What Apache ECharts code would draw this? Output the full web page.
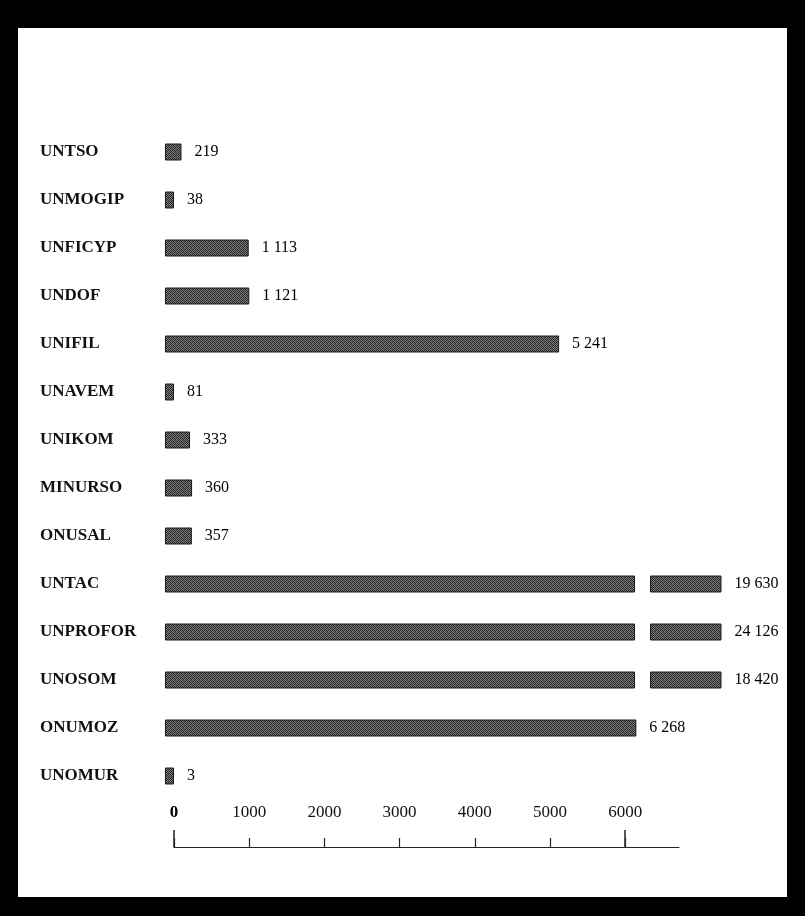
<!DOCTYPE html>
<html>
<head>
<meta charset="utf-8">
<script src="https://cdn.jsdelivr.net/npm/echarts@6/dist/echarts.min.js"></script>
<style>
  html, body { margin: 0; padding: 0; background: #000; }
  #chart { position: absolute; left: 18px; top: 28px; width: 769px; height: 869px; background: #fff; }
</style>
</head>
<body>
<div id="chart"></div>
<script>
// ---- data ----
const categories = ['UNTSO', 'UNMOGIP', 'UNFICYP', 'UNDOF', 'UNIFIL', 'UNAVEM', 'UNIKOM',
  'MINURSO', 'ONUSAL', 'UNTAC', 'UNPROFOR', 'UNOSOM', 'ONUMOZ', 'UNOMUR'];
const troops = [219, 38, 1113, 1121, 5241, 81, 333, 360, 357, 19630, 24126, 18420, 6268, 3];
const tickValues = [0, 1000, 2000, 3000, 4000, 5000, 6000];
const longTicks = [0, 6000];

// broken-bar convention (axis units): values above LIMIT are cut at CUT,
// and a short tail piece is drawn from TAIL_FROM to TAIL_TO
const LIMIT = 7000, CUT = 6250, TAIL_FROM = 6450, TAIL_TO = 7400;

const fmt = v => String(v).replace(/\B(?=(\d{3})+(?!\d))/g, ' ');
const isBroken = v => v > LIMIT;

// dithered grey texture
function makePattern() {
  const c = document.createElement('canvas');
  c.width = 4; c.height = 4;
  const ctx = c.getContext('2d');
  const px = [
    '#1f1f1f', '#7c7c7c', '#2a2a2a', '#8a8a8a',
    '#8a8a8a', '#2a2a2a', '#6e6e6e', '#1f1f1f',
    '#2a2a2a', '#808080', '#1f1f1f', '#7c7c7c',
    '#747474', '#1f1f1f', '#8a8a8a', '#2a2a2a'
  ];
  for (let y = 0; y < 4; y++) {
    for (let x = 0; x < 4; x++) {
      ctx.fillStyle = px[y * 4 + x];
      ctx.fillRect(x, y, 1, 1);
    }
  }
  return { image: c, repeat: 'repeat' };
}
const barFill = makePattern();
const SERIF = '"Liberation Serif", "Times New Roman", serif';

const mainData = troops.map(v => isBroken(v) ? CUT : v);
const gapData = troops.map(v => isBroken(v) ? TAIL_FROM - CUT : '-');
const tailData = troops.map(v => isBroken(v) ? TAIL_TO - TAIL_FROM : '-');

const valueLabel = {
  show: true, position: 'right', distance: 13,
  fontFamily: SERIF, fontSize: 16, color: '#000'
};

const chart = echarts.init(document.getElementById('chart'), null, { renderer: 'canvas' });
chart.setOption({
  animation: false,
  backgroundColor: '#fff',
  grid: [
    { left: 147, right: 20.4, top: 100, height: 672 },
    { left: 156, right: 108, top: 780, bottom: 50 }
  ],
  xAxis: [
    { gridIndex: 0, type: 'value', min: 0, max: 8000, show: false },
    {
      gridIndex: 1, type: 'value', position: 'bottom', min: 0, max: 6715, interval: 1000,
      axisLine: { show: true, lineStyle: { color: '#222', width: 1.2 } },
      axisTick: { show: true, inside: true, length: 9, customValues: tickValues,
        lineStyle: { color: '#222', width: 1.2 } },
      axisLabel: {
        show: true, inside: true, margin: 26, customValues: tickValues,
        fontFamily: SERIF, fontSize: 17, color: '#111',
        formatter: v => v === 0 ? '{b|0}' : String(v),
        rich: { b: { fontFamily: SERIF, fontSize: 17, fontWeight: 'bold', color: '#000' } }
      },
      splitLine: { show: false }
    },
    {
      gridIndex: 1, type: 'value', position: 'bottom', min: 0, max: 6715, interval: 1000,
      axisLine: { show: false },
      axisTick: { show: true, inside: true, length: 17, customValues: longTicks,
        lineStyle: { color: '#222', width: 1.5 } },
      axisLabel: { show: false },
      splitLine: { show: false }
    }
  ],
  yAxis: [
    {
      gridIndex: 0, type: 'category', inverse: true, data: categories,
      axisLine: { show: false }, axisTick: { show: false },
      axisLabel: {
        align: 'left', margin: 125,
        fontFamily: SERIF, fontSize: 17, fontWeight: 'bold', color: '#111'
      }
    },
    { gridIndex: 1, type: 'value', show: false }
  ],
  series: [
    {
      type: 'bar', xAxisIndex: 0, yAxisIndex: 0, stack: 'b', barWidth: 17, barMinHeight: 9,
      data: mainData,
      itemStyle: { color: barFill, borderColor: '#1a1a1a', borderWidth: 1 },
      label: Object.assign({}, valueLabel, {
        formatter: p => isBroken(troops[p.dataIndex]) ? '' : fmt(troops[p.dataIndex])
      })
    },
    {
      type: 'bar', xAxisIndex: 0, yAxisIndex: 0, stack: 'b', barWidth: 17,
      data: gapData, silent: true,
      itemStyle: { color: 'rgba(0,0,0,0)' }
    },
    {
      type: 'bar', xAxisIndex: 0, yAxisIndex: 0, stack: 'b', barWidth: 17,
      data: tailData,
      itemStyle: { color: barFill, borderColor: '#1a1a1a', borderWidth: 1 },
      label: Object.assign({}, valueLabel, {
        formatter: p => fmt(troops[p.dataIndex])
      })
    }
  ]
});
</script>
</body>
</html>
